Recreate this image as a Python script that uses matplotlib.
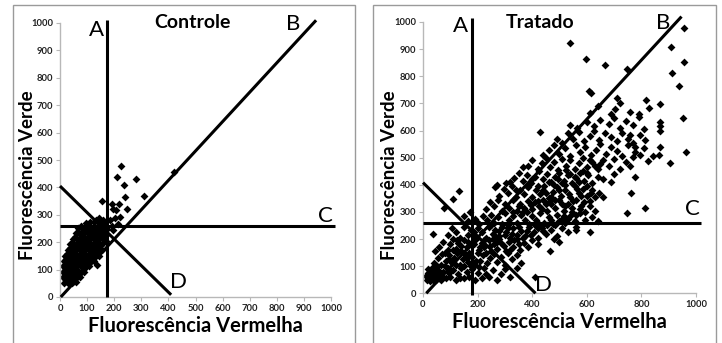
import numpy as np
import matplotlib.pyplot as plt
from matplotlib.patches import Rectangle

# --- data --------------------------------------------------------------
# Controle: dense cluster near the origin + a few scattered events
ctrl_cluster = [
    (15, 52), (22, 58), (30, 50), (38, 55), (45, 52), (52, 58), (60, 55), (20, 65), (35, 62), (50, 65),
    (12, 72), (20, 78), (28, 70), (36, 76), (44, 72), (52, 78), (60, 70), (68, 76), (74, 72),
    (12, 92), (20, 98), (28, 90), (36, 96), (44, 92), (52, 98), (60, 90), (68, 96), (76, 92), (84, 98), (90, 92),
    (12, 112), (20, 118), (28, 110), (36, 116), (44, 112), (52, 118), (60, 110), (68, 116), (76, 112),
    (84, 118), (92, 110), (100, 116), (108, 112),
    (14, 132), (22, 138), (30, 130), (38, 136), (46, 132), (54, 138), (62, 130), (70, 136), (78, 132),
    (86, 138), (94, 130), (102, 136), (110, 132), (118, 138), (125, 130), (135, 115),
    (18, 148), (26, 156), (34, 150), (42, 158), (50, 150), (58, 156), (66, 150), (74, 158), (82, 150),
    (90, 156), (98, 150), (106, 158), (114, 150), (122, 156), (130, 150), (138, 158), (145, 150),
    (28, 172), (36, 178), (44, 170), (52, 176), (60, 172), (68, 178), (76, 170), (84, 176), (92, 172),
    (100, 178), (108, 170), (116, 176), (124, 172), (132, 178), (140, 170), (148, 176), (154, 172),
    (38, 192), (46, 198), (54, 190), (62, 196), (70, 192), (78, 198), (86, 190), (94, 196), (102, 192),
    (110, 198), (118, 190), (126, 196), (134, 192), (142, 198), (150, 190), (157, 196),
    (48, 212), (56, 218), (64, 210), (72, 216), (80, 212), (88, 218), (96, 210), (104, 216), (112, 212),
    (120, 218), (128, 210), (136, 216), (144, 212), (152, 218), (160, 210),
    (58, 232), (66, 238), (74, 230), (82, 236), (90, 232), (98, 238), (106, 230), (114, 236), (122, 232),
    (130, 238), (138, 230), (146, 236), (154, 232), (162, 240),
    (68, 252), (76, 258), (84, 250), (92, 256), (100, 252), (108, 258), (116, 250), (124, 256), (132, 252),
    (140, 258), (148, 250), (156, 256), (165, 262),
    (95, 270), (110, 275), (125, 272), (132, 282), (140, 278), (145, 288), (150, 270), (160, 280),
]
ctrl_outliers = [
    (154, 350), (224, 478), (209, 438), (282, 432), (236, 409), (241, 366), (309, 368), (246, 321),
    (421, 457), (192, 338), (218, 339), (197, 320), (207, 318), (203, 290), (221, 293), (184, 280),
    (191, 260), (213, 268), (197, 244), (175, 250), (170, 228), (168, 205),
]

# Tratado: broad diagonal population
trat_cluster = [
    (15, 50), (20, 60), (25, 45), (25, 70), (30, 55), (30, 80), (35, 65), (38, 48), (40, 90), (42, 58),
    (45, 75), (48, 50), (50, 65), (55, 85), (58, 55), (20, 75), (32, 95), (60, 70), (18, 88), (65, 50),
    (70, 62), (52, 100), (12, 62), (28, 52), (36, 78), (46, 62),
]
trat_body = [
    # y 50-100
    (75, 80), (85, 55), (90, 95), (100, 60), (110, 85), (120, 50), (130, 70), (140, 95), (150, 55),
    (160, 80), (170, 60), (180, 90), (190, 50), (200, 75), (215, 55), (225, 95), (240, 60), (255, 85),
    (270, 50), (285, 70), (300, 90), (320, 60), (345, 95), (95, 75), (135, 55), (175, 100), (230, 70),
    (205, 98), (410, 60),
    # y 100-150
    (40, 110), (55, 130), (65, 105), (70, 145), (85, 120), (95, 140), (105, 110), (115, 130), (125, 150),
    (135, 105), (145, 125), (155, 145), (165, 115), (180, 135), (190, 105), (200, 150), (210, 120),
    (220, 140), (235, 110), (245, 130), (260, 145), (270, 115), (285, 135), (300, 105), (310, 150),
    (325, 125), (345, 140), (360, 110), (80, 150), (150, 100), (95, 125), (80, 100), (120, 105),
    (160, 130), (195, 120),
    # y 150-200
    (60, 170), (75, 190), (90, 160), (100, 180), (110, 200), (120, 165), (130, 185), (140, 155),
    (150, 195), (160, 170), (170, 150), (185, 180), (195, 200), (205, 160), (215, 185), (225, 170),
    (240, 195), (250, 155), (260, 180), (270, 165), (280, 200), (295, 175), (305, 155), (315, 190),
    (330, 170), (345, 200), (355, 160), (370, 185), (385, 170), (400, 195), (420, 180), (230, 150),
    (270, 190), (320, 160), (45, 155), (465, 155), (210, 170), (225, 195), (245, 175), (285, 185),
    (335, 195), (350, 180), (165, 190), (140, 175), (125, 195), (110, 160),
    # y 200-250
    (90, 215), (105, 240), (120, 225), (135, 205), (150, 245), (165, 215), (175, 235), (190, 210),
    (200, 240), (215, 225), (230, 205), (240, 245), (255, 220), (265, 235), (280, 210), (290, 245),
    (305, 225), (320, 205), (330, 240), (345, 215), (360, 230), (375, 210), (390, 245), (405, 225),
    (420, 205), (435, 240), (450, 220), (470, 235), (490, 210), (510, 240), (530, 225), (560, 235),
    (610, 225), (280, 230), (350, 245), (38, 217), (500, 190), (480, 200), (255, 200), (265, 210),
    (300, 215), (310, 240), (325, 220), (365, 205), (380, 230), (395, 215), (420, 240), (440, 230),
    (250, 250), (185, 225),
    # y 250-300
    (150, 285), (165, 265), (172, 300), (190, 275), (205, 255), (220, 285), (235, 270), (250, 290),
    (260, 260), (275, 280), (290, 255), (300, 295), (315, 270), (330, 285), (345, 260), (360, 290),
    (375, 270), (390, 255), (400, 285), (415, 270), (430, 295), (445, 260), (460, 280), (475, 255),
    (490, 290), (505, 270), (520, 260), (540, 285), (555, 265), (575, 295), (595, 270), (620, 280),
    (640, 265), (310, 250), (365, 300), (425, 255), (560, 245), (77, 313), (410, 250), (455, 250),
    (470, 270), (485, 250), (500, 265), (515, 285), (530, 275), (560, 290), (200, 260),
    # y 300-350
    (230, 310), (245, 335), (260, 320), (275, 345), (290, 305), (300, 330), (315, 315), (330, 345),
    (345, 305), (355, 330), (370, 315), (385, 340), (400, 310), (410, 335), (425, 320), (440, 345),
    (455, 305), (470, 330), (485, 315), (500, 345), (515, 305), (530, 330), (545, 315), (560, 345),
    (575, 310), (590, 335), (610, 320), (630, 305), (395, 325), (465, 340), (520, 320), (109, 348),
    (545, 300), (580, 320), (595, 300), (610, 340), (330, 300), (350, 320), (380, 300), (420, 340),
    (435, 310), (450, 330), (510, 330), (550, 340),
    # y 350-400
    (265, 390), (280, 360), (295, 385), (310, 370), (325, 395), (340, 355), (355, 380), (370, 365),
    (385, 390), (400, 355), (415, 380), (430, 365), (445, 395), (460, 350), (475, 375), (490, 390),
    (505, 360), (520, 380), (540, 355), (555, 395), (570, 370), (585, 385), (600, 360), (620, 380),
    (645, 370), (660, 355), (450, 370), (520, 398), (133, 378), (305, 405), (270, 398), (470, 355),
    (485, 345), (500, 380), (535, 365), (565, 385), (580, 360), (600, 395), (615, 370), (630, 355),
    (420, 395), (440, 380), (380, 395), (340, 380),
    # y 400-450
    (320, 410), (335, 425), (350, 445), (365, 415), (380, 435), (395, 405), (410, 430), (425, 450),
    (440, 420), (455, 440), (470, 410), (485, 430), (500, 445), (515, 415), (530, 435), (545, 405),
    (560, 425), (575, 445), (590, 415), (605, 435), (620, 405), (640, 430), (660, 420), (690, 410),
    (700, 440), (365, 465), (775, 430), (460, 410), (480, 400), (495, 420), (510, 405), (540, 440),
    (555, 430), (570, 410), (585, 450), (600, 445), (400, 420),
    # y 450-500
    (385, 470), (400, 490), (420, 460), (435, 480), (450, 500), (465, 465), (480, 485), (495, 455),
    (510, 495), (525, 470), (540, 490), (555, 460), (570, 480), (585, 500), (600, 465), (620, 485),
    (640, 460), (660, 490), (680, 470), (700, 495), (720, 460), (745, 485), (760, 470), (525, 455),
    (610, 490), (630, 470), (650, 475),
    # y 500-550
    (440, 510), (460, 530), (480, 545), (500, 515), (520, 535), (540, 505), (560, 545), (575, 520),
    (595, 540), (615, 510), (635, 530), (650, 550), (670, 515), (690, 540), (710, 525), (730, 505),
    (750, 545), (775, 520), (795, 510),
    # y 550-600
    (490, 570), (510, 555), (530, 590), (550, 570), (570, 595), (590, 560), (610, 580), (625, 600),
    (645, 565), (665, 590), (690, 575), (710, 560), (730, 590), (750, 570), (770, 555), (795, 585),
    (815, 565), (430, 595),
    # y 600-720
    (540, 620), (565, 610), (600, 630), (625, 615), (650, 640), (680, 625), (700, 645), (720, 610),
    (745, 635), (770, 620), (790, 650), (810, 605), (610, 665), (640, 690), (690, 660), (705, 680),
    (720, 700), (760, 670), (790, 660), (710, 720),
]
trat_outliers = [
    (540, 924), (597, 862), (665, 840), (746, 828), (608, 747), (615, 740), (908, 909), (911, 813),
    (957, 979), (955, 853), (939, 764), (951, 647), (963, 521), (906, 479), (817, 714), (829, 682),
    (868, 699), (868, 630), (868, 615), (869, 600), (869, 538), (863, 510), (842, 507), (825, 489),
    (811, 537), (778, 540), (769, 504), (760, 582), (763, 370), (746, 296), (813, 313),
]

# gate lines A, B, C, D: (x0, y0, x1, y1)
ctrl_gates = [(175, 0, 175, 1010), (3, 0, 945, 1010), (0, 260, 1015, 260), (0, 405, 410, 8)]
trat_gates = [(180, -5, 180, 1015), (12, 0, 947, 1020), (0, 260, 1018, 260), (0, 408, 412, 0)]
ctrl_letters = [("A", 135, 975), ("B", 860, 995), ("C", 978, 295), ("D", 437, 55)]
trat_letters = [("A", 139, 985), ("B", 878, 995), ("C", 988, 310), ("D", 440, 30)]
titles = ["Controle", "Tratado"]
title_x = [0.487, 0.428]
ylabel_pos = [(-0.088, 0.445), (-0.092, 0.436)]
xtick_steps = [100, 200]

FONT = "Lato"


def draw_panel(ax, pts, gates, letters, title, tx, ylab_xy, xstep):
    pts = np.array(pts)
    ax.scatter(pts[:, 0], pts[:, 1], marker="D", s=16, color="black", linewidths=0, zorder=2)

    for x0, y0, x1, y1 in gates:
        ax.plot([x0, x1], [y0, y1], color="black", lw=2.2, clip_on=False, zorder=3,
                solid_capstyle="butt")
    for txt, x, y in letters:
        ax.text(x, y, txt, fontsize=16, family=FONT, ha="center", va="center", zorder=4)
    ax.text(tx, 1.0, title, transform=ax.transAxes, fontsize=14,
            fontweight="bold", family=FONT, ha="center", va="center")

    ax.set_xlim(0, 1000)
    ax.set_ylim(0, 1000)
    ax.set_xticks(np.arange(0, 1001, xstep))
    ax.set_yticks(np.arange(0, 1001, 100))
    for s in ["top", "right"]:
        ax.spines[s].set_visible(False)
    for s in ["left", "bottom"]:
        ax.spines[s].set_color("#b8b8b8")
        ax.spines[s].set_linewidth(1.0)
    ax.tick_params(direction="out", length=3, width=0.8, color="#b8b8b8", pad=2)
    for lab in ax.get_xticklabels() + ax.get_yticklabels():
        lab.set_fontsize(6.8)
        lab.set_fontweight("bold")
        lab.set_family(FONT)
        lab.set_color("#222222")
    ax.set_xlabel("Fluorescência Vermelha", fontsize=14.5, fontweight="bold", family=FONT, labelpad=2)
    ax.set_ylabel("Fluorescência Verde", fontsize=13.5, fontweight="bold", family=FONT)
    ax.yaxis.set_label_coords(*ylab_xy)


def main():
    fig = plt.figure(figsize=(7.22, 3.43), dpi=100)

    ax1 = fig.add_axes([60 / 722, 46 / 343, 271 / 722, 274 / 343])
    ax2 = fig.add_axes([423 / 722, 49.7 / 343, 273 / 722, 271.3 / 343])

    draw_panel(ax1, ctrl_cluster + ctrl_outliers, ctrl_gates, ctrl_letters, titles[0], title_x[0],
               ylabel_pos[0], xtick_steps[0])
    draw_panel(ax2, trat_cluster + trat_body + trat_outliers, trat_gates, trat_letters, titles[1],
               title_x[1], ylabel_pos[1], xtick_steps[1])

    # grey frames around each panel
    for x0, x1 in [(12.7, 354.5), (372.7, 715.5)]:
        fig.add_artist(Rectangle((x0 / 722, -0.02), (x1 - x0) / 722, (343 - 5) / 343 + 0.02,
                                 transform=fig.transFigure, fill=False, edgecolor="#9a9a9a", lw=1.0))

    fig.savefig("out.png", dpi=100)


if __name__ == "__main__":
    main()
